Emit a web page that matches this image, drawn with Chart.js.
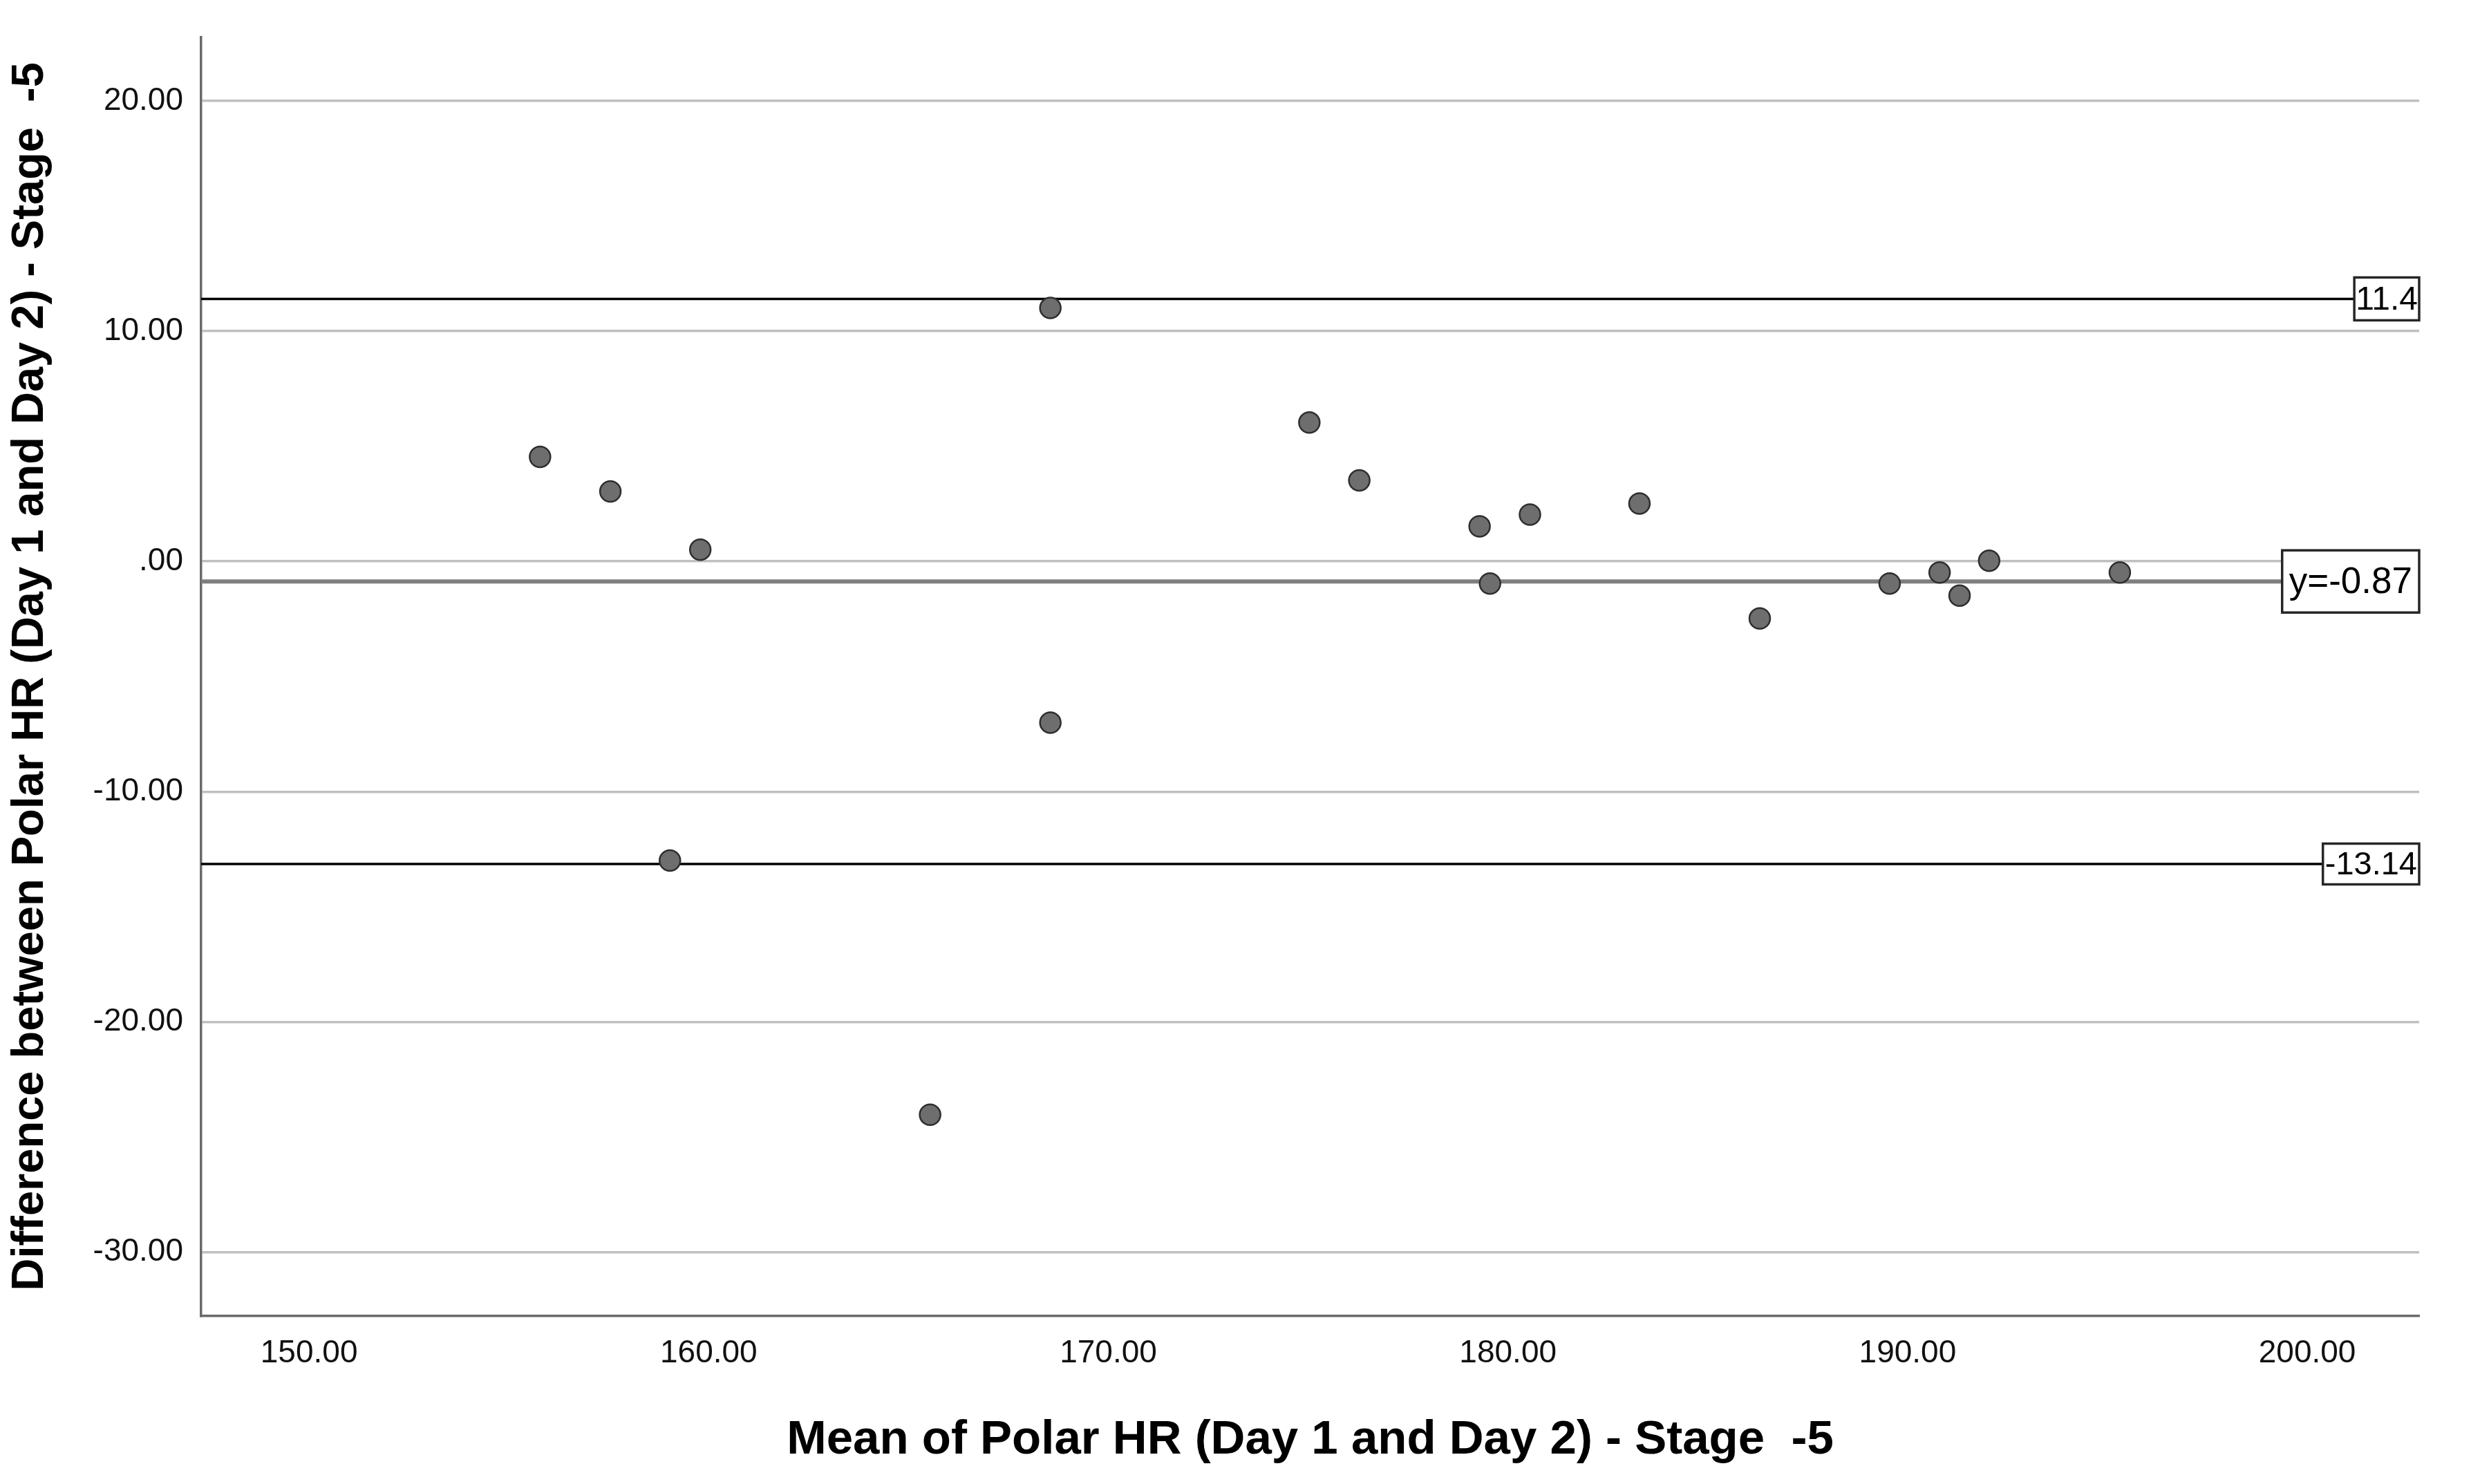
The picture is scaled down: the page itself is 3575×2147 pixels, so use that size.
<!DOCTYPE html>
<html>
<head>
<meta charset="utf-8">
<script src="https://cdn.jsdelivr.net/npm/chart.js@4.4.1/dist/chart.umd.min.js"></script>
<style>
  html, body { margin: 0; padding: 0; background: #ffffff; }
  canvas { display: block; }
</style>
</head>
<body>
<canvas id="blandAltman" width="3575" height="2147"></canvas>
<script>
// Mean of the two days (x) and difference between days (y)
const meanHR = [155.78, 157.54, 159.79, 159.03, 165.54, 168.55, 168.55, 175.03, 176.28, 179.29,
                179.55, 180.55, 183.29, 186.3, 189.55, 190.8, 191.3, 192.04, 195.31];
const diffHR = [4.54, 3.04, 0.51, -12.99, -24.03, 11.01, -7.0, 6.03, 3.52, 1.52,
                -0.96, 2.03, 2.51, -2.48, -0.96, -0.48, -1.49, 0.03, -0.48];

// Mean difference and limits of agreement
const meanDiff = -0.87;
const upperLimit = 11.4;
const lowerLimit = -13.14;
const refLabels = ['11.4', 'y=-0.87', '-13.14'];

const xTicks = [150, 160, 170, 180, 190, 200];
const yTicks = [-30, -20, -10, 0, 10, 20];
const xRange = [147.3, 202.8];
const yRange = [-32.77, 22.77];

const xTitle = 'Mean of Polar HR (Day 1 and Day 2) - Stage  -5';
const yTitle = 'Difference between Polar HR (Day 1 and Day 2) - Stage  -5';

function fmt(v) {
  // SPSS style: ".00" for zero, two decimals otherwise
  return v.toFixed(2).replace(/^(-?)0\./, '$1.');
}

function hLine(v) {
  return [{ x: xRange[0], y: v }, { x: xRange[1], y: v }];
}

// Boxed value labels at the right end of the reference lines
const refLabelPlugin = {
  id: 'refLabels',
  afterDatasetsDraw(chart) {
    const ctx = chart.ctx;
    const yScale = chart.scales.y;
    const right = chart.chartArea.right;
    const items = [
      { v: upperLimit, text: refLabels[0], size: 48, padX: 2, h: 62 },
      { v: meanDiff, text: refLabels[1], size: 53, padX: 10, h: 90 },
      { v: lowerLimit, text: refLabels[2], size: 47, padX: 3, h: 59 }
    ];
    ctx.save();
    items.forEach(item => {
      const y = yScale.getPixelForValue(item.v);
      ctx.font = item.size + 'px "Liberation Sans", Arial, sans-serif';
      const w = ctx.measureText(item.text).width + item.padX * 2;
      const x0 = right - w;
      ctx.fillStyle = '#ffffff';
      ctx.fillRect(x0, y - item.h / 2, w, item.h);
      ctx.strokeStyle = '#262626';
      ctx.lineWidth = 3.5;
      ctx.strokeRect(x0, y - item.h / 2, w, item.h);
      ctx.fillStyle = '#000000';
      ctx.textAlign = 'center';
      ctx.textBaseline = 'middle';
      ctx.fillText(item.text, x0 + w / 2, y + 2);
    });
    ctx.restore();
  }
};

const points = meanHR.map((x, i) => ({ x: x, y: diffHR[i] }));

new Chart(document.getElementById('blandAltman'), {
  type: 'scatter',
  data: {
    datasets: [
      {
        label: 'Differences',
        data: points,
        backgroundColor: '#6e6e6e',
        borderColor: '#2e2e2e',
        borderWidth: 2.5,
        pointRadius: 15,
        order: 0
      },
      {
        type: 'line',
        label: 'Mean',
        data: hLine(meanDiff),
        borderColor: '#7f7f7f',
        borderWidth: 6,
        pointRadius: 0,
        order: 1
      },
      {
        type: 'line',
        label: 'Upper limit',
        data: hLine(upperLimit),
        borderColor: '#000000',
        borderWidth: 3.5,
        pointRadius: 0,
        order: 2
      },
      {
        type: 'line',
        label: 'Lower limit',
        data: hLine(lowerLimit),
        borderColor: '#000000',
        borderWidth: 3.5,
        pointRadius: 0,
        order: 3
      }
    ]
  },
  options: {
    responsive: false,
    devicePixelRatio: 1,
    animation: false,
    layout: { padding: { top: 40, right: 75, left: 0, bottom: 0 } },
    plugins: {
      legend: { display: false },
      tooltip: { enabled: false }
    },
    scales: {
      x: {
        type: 'linear',
        min: xRange[0],
        max: xRange[1],
        afterFit: s => { s.height = 243; },
        afterBuildTicks: s => { s.ticks = xTicks.map(v => ({ value: v })); },
        grid: { display: false, drawTicks: false },
        border: { display: true, color: '#6a6a6a', width: 3.5 },
        ticks: {
          padding: 27,
          color: '#111111',
          font: { family: '"Liberation Sans", Arial, sans-serif', size: 46 },
          callback: v => fmt(v)
        },
        title: {
          display: true,
          text: xTitle,
          color: '#000000',
          font: { family: '"Liberation Sans", Arial, sans-serif', size: 69, weight: 'bold' },
          padding: { top: 0, bottom: 22 }
        }
      },
      y: {
        type: 'linear',
        min: yRange[0],
        max: yRange[1],
        afterFit: s => { s.width = 291; },
        afterBuildTicks: s => { s.ticks = yTicks.map(v => ({ value: v })); },
        grid: { color: '#c0c0c0', lineWidth: 3.5, drawTicks: false },
        border: { display: true, color: '#6a6a6a', width: 3.5 },
        ticks: {
          padding: 26,
          color: '#111111',
          font: { family: '"Liberation Sans", Arial, sans-serif', size: 46 },
          callback: v => fmt(v)
        },
        title: {
          display: true,
          text: yTitle,
          color: '#000000',
          font: { family: '"Liberation Sans", Arial, sans-serif', size: 65, weight: 'bold' },
          padding: { top: 5, bottom: 0 }
        }
      }
    }
  },
  plugins: [refLabelPlugin]
});
</script>
</body>
</html>
